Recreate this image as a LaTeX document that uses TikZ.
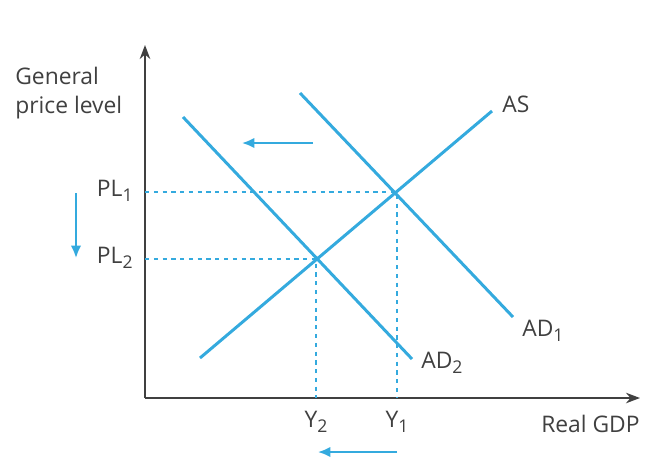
\documentclass[tikz,border=0pt]{standalone}
\usepackage{fontspec}
\setmainfont{Open Sans}
\usetikzlibrary{arrows.meta}
\definecolor{curveblue}{RGB}{52,170,222}
\definecolor{ink}{RGB}{64,64,64}
\newcommand{\sub}[1]{\raisebox{-0.45ex}{\fontsize{10}{10}\selectfont #1}}
\tikzset{
  lab/.style={text=ink, font=\fontsize{13}{16.5}\selectfont, inner sep=0pt},
  curve/.style={curveblue, line width=1.7pt},
  guide/.style={curveblue, line width=0.7pt, dash pattern=on 2.4pt off 2.6pt},
  movearrow/.style={curveblue, line width=1.2pt, -{Latex[length=7pt,width=6pt]}}
}
\begin{document}
\begin{tikzpicture}[x=0.02cm,y=-0.02cm]
\useasboundingbox (0,0) rectangle (656,468);
% axes
\coordinate (o) at (145,398);
\coordinate (ytop) at (145,45);
\coordinate (xend) at (640,398);
\draw [ink, line width=1pt, -{Stealth[length=8pt,width=6pt]}] (o) -- (ytop);
\draw [ink, line width=1pt, -{Stealth[length=8pt,width=6pt]}] (o) -- (xend);
% curves
\coordinate (as1) at (200,358);
\coordinate (as2) at (492,111);
\coordinate (ad11) at (300,93);
\coordinate (ad12) at (513,317);
\coordinate (ad21) at (183,117);
\coordinate (ad22) at (412,359);
\draw [curve] (as1) -- (as2);
\draw [curve] (ad11) -- (ad12);
\draw [curve] (ad21) -- (ad22);
% equilibria
\coordinate (e1) at (397,192);
\coordinate (e2) at (316,259);
\draw [guide] (e1 -| o) -- (e1) -- (e1 |- o);
\draw [guide] (e2 -| o) -- (e2) -- (e2 |- o);
% labels
\node [lab, anchor=west, align=left] (gpl) at (15,93) {General\\price level};
\node [lab, anchor=west] (as) at (502,104) {AS};
\node [lab, anchor=west] (ad1) at (522,331) {AD\sub{1}};
\node [lab, anchor=west] (ad2) at (421,363) {AD\sub{2}};
\node [lab, anchor=east] (pl1) at (133,191) {PL\sub{1}};
\node [lab, anchor=east] (pl2) at (133,258) {PL\sub{2}};
\node [lab] (y2) at (316,422) {Y\sub{2}};
\node [lab] (y1) at (397,422) {Y\sub{1}};
\node [lab, anchor=east] (gdp) at (640,424) {Real GDP};
% shifts
\coordinate (sa1) at (313,143);
\coordinate (sa2) at (242,143);
\coordinate (sp1) at (76,193);
\coordinate (sp2) at (76,258);
\coordinate (sy1) at (397,452);
\coordinate (sy2) at (318,452);
\draw [movearrow] (sa1) -- (sa2);
\draw [movearrow] (sp1) -- (sp2);
\draw [movearrow] (sy1) -- (sy2);
\end{tikzpicture}
\end{document}
